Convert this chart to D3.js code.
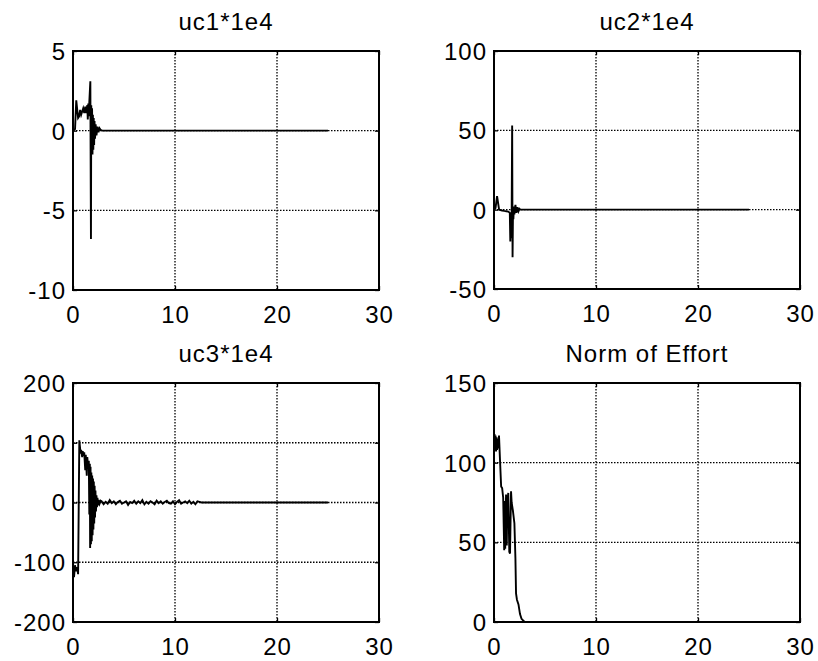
<!DOCTYPE html>
<html><head><meta charset="utf-8">
<script src="https://cdn.jsdelivr.net/npm/d3@7/dist/d3.min.js"></script>
<style>
html,body{margin:0;padding:0;background:#fff;}
text{font-family:"Liberation Sans",Arial,sans-serif;fill:#000;}
</style></head>
<body>
<svg id="c" width="818" height="661"></svg>
<script>
const titles = ["uc1*1e4", "uc2*1e4", "uc3*1e4", "Norm of Effort"];
const xTicks = [0, 10, 20, 30];
const yTicks1 = [-10, -5, 0, 5];
const yTicks2 = [-50, 0, 50, 100];
const yTicks3 = [-200, -100, 0, 100, 200];
const yTicks4 = [0, 50, 100, 150];

// [time, value] pairs
const uc1 = [[0,0],[0.2,0.1],[0.32,1.9],[0.4,1.4],[0.5,0.8],[0.6,0.9],[0.7,1.3],[0.8,1.0],[0.9,1.2],[1.0,1.4],[1.1,1.1],[1.2,1.5],[1.3,1.1],[1.4,1.6],[1.45,0.7],[1.5,1.7],[1.55,0.9],[1.6,1.8],[1.7,3.1],[1.76,-6.8],[1.79,1.6],[1.83,-1.3],[1.87,1.4],[1.91,-1.5],[1.95,1.0],[1.99,-1.2],[2.03,0.8],[2.07,-0.9],[2.11,0.6],[2.16,-0.5],[2.22,0.4],[2.3,-0.3],[2.4,0.25],[2.5,-0.1],[2.6,0.15],[2.7,0.05],[2.85,0],[25,0]];
const uc2 = [[0,0],[0.15,1],[0.3,8.5],[0.5,0],[0.8,-0.5],[1.0,-0.8],[1.2,-1],[1.4,-1.2],[1.55,-2],[1.6,-20],[1.64,-3],[1.68,-18],[1.73,-5],[1.78,53],[1.82,-30],[1.86,-2],[1.9,-6],[1.95,2],[2.0,-3],[2.1,3],[2.2,-2],[2.3,1.5],[2.4,-1],[2.5,0.5],[2.6,0],[25,0]];
const uc3 = [[0,-100],[0.1,-125],[0.2,-105],[0.3,-115],[0.4,-108],[0.5,-120],[0.62,104],[0.7,90],[0.75,82],[0.8,88],[0.9,76],[0.95,86],[1.05,78],[1.1,84],[1.2,54],[1.25,80],[1.35,45],[1.4,76],[1.5,56],[1.55,70],[1.6,-20],[1.65,65],[1.68,-76],[1.72,60],[1.76,-70],[1.8,50],[1.84,-65],[1.88,45],[1.92,-55],[1.96,40],[2.0,-45],[2.04,35],[2.08,-35],[2.12,28],[2.16,-25],[2.2,20],[2.25,-15],[2.3,12],[2.35,-8],[2.4,8],[2.45,-5],[2.5,4],[2.6,-2],[2.7,3],
[2.8,2],[3.0,-3],[3.2,1],[3.4,-2],[3.6,4],[3.8,-1],[4.0,2],[4.2,-3],[4.4,1],[4.6,3],[4.8,-2],[5.0,0],[5.2,2],[5.4,-4],[5.6,1],[5.8,-1],[6.0,3],[6.2,-2],[6.4,2],[6.6,-1],[6.8,4],[7.0,-3],[7.2,1],[7.4,-2],[7.6,2],[7.8,0],[8.0,-3],[8.2,3],[8.4,-1],[8.6,2],[8.8,-2],[9.0,1],[9.2,3],[9.4,-1],[9.6,-2],[9.8,2],[10.0,-3],[10.2,1],[10.4,4],[10.6,-2],[10.8,0],[11.0,2],[11.2,-1],[11.4,3],[11.6,-2],[11.8,1],[12.0,-3],[12.2,2],[12.4,1],[12.6,0],[25,0]];
const effort = [[0,110],[0.05,118],[0.1,108],[0.15,117],[0.2,107],[0.25,116],[0.3,108],[0.35,115],[0.4,109],[0.49,117],[0.6,100],[0.7,85],[0.8,84],[0.9,78],[1.0,45],[1.05,76],[1.1,46],[1.18,80],[1.25,48],[1.3,75],[1.4,81],[1.5,44],[1.57,43],[1.67,82],[1.73,75],[1.85,70],[2.0,62],[2.1,40],[2.16,18],[2.25,14],[2.4,11],[2.55,5],[2.7,2],[2.85,1],[3.0,0],[25,0]];

const panels = [
  {x:73, y:51, w:306, h:239, yd:[-10,5], yt:yTicks1, data:uc1, title:titles[0]},
  {x:494, y:51, w:306, h:238, yd:[-50,100], yt:yTicks2, data:uc2, title:titles[1]},
  {x:73, y:383, w:306, h:239, yd:[-200,200], yt:yTicks3, data:uc3, title:titles[2]},
  {x:494, y:383, w:306, h:239, yd:[0,150], yt:yTicks4, data:effort, title:titles[3]}
];

const svg = d3.select("#c");
const FS = 24;
const fmt = d => String(d);

panels.forEach(p => {
  const g = svg.append("g").attr("transform", `translate(${p.x},${p.y})`);
  const xs = d3.scaleLinear().domain([0,30]).range([0,p.w]);
  const ys = d3.scaleLinear().domain(p.yd).range([p.h,0]);

  // grid
  const grid = g.append("g").attr("stroke","#000").attr("stroke-width",1.3).attr("stroke-dasharray","1.5,1.5");
  xTicks.slice(1,-1).forEach(t => grid.append("line").attr("x1",xs(t)).attr("x2",xs(t)).attr("y1",0).attr("y2",p.h));
  p.yt.slice(1,-1).forEach(t => grid.append("line").attr("x1",0).attr("x2",p.w).attr("y1",ys(t)).attr("y2",ys(t)));

  // data
  g.append("path").datum(p.data)
    .attr("fill","none").attr("stroke","#000").attr("stroke-width",1.9).attr("stroke-linejoin","miter")
    .attr("d", d3.line().x(d=>xs(d[0])).y(d=>ys(d[1])));

  // axes
  const ax = g.append("g").attr("transform",`translate(0,${p.h})`)
    .call(d3.axisBottom(xs).tickValues(xTicks).tickSize(-4).tickPadding(16).tickFormat(fmt));
  const ay = g.append("g")
    .call(d3.axisLeft(ys).tickValues(p.yt).tickSize(-4).tickPadding(7).tickFormat(fmt));
  const at = g.append("g").call(d3.axisTop(xs).tickValues(xTicks).tickSize(-4).tickFormat(""));
  const ar = g.append("g").attr("transform",`translate(${p.w},0)`).call(d3.axisRight(ys).tickValues(p.yt).tickSize(-4).tickFormat(""));
  [ax,ay,at,ar].forEach(a => {
    a.select(".domain").remove();
    a.selectAll("line").attr("stroke","#000").attr("stroke-width",1.3);
    a.selectAll("text").attr("font-size",FS).attr("letter-spacing","1px")
      .attr("font-family","Liberation Sans, Arial, sans-serif").attr("fill","#000");
  });
  ay.selectAll("text").attr("dy","0.35em");

  g.append("rect").attr("x",0).attr("y",0).attr("width",p.w).attr("height",p.h)
    .attr("fill","none").attr("stroke","#000").attr("stroke-width",2);

  g.append("text").attr("x",p.w/2).attr("y",-21).attr("text-anchor","middle")
    .attr("font-size",FS).attr("letter-spacing","1px").text(p.title);
});
</script>
</body></html>
